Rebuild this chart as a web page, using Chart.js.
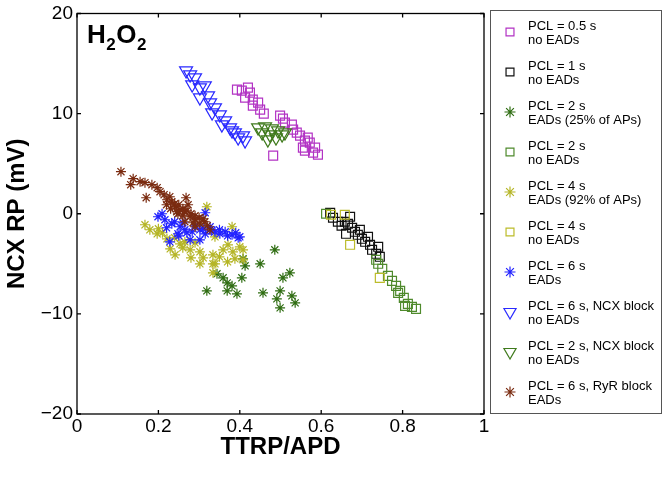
<!DOCTYPE html>
<html>
<head>
<meta charset="utf-8">
<script src="https://cdn.jsdelivr.net/npm/chart.js@4/dist/chart.umd.min.js"></script>
<style>
html, body { margin: 0; padding: 0; background: #fff; }
</style>
</head>
<body>
<canvas id="chart" width="664" height="478"></canvas>
<script>
// Values (x = TTRP/APD, y = NCX RP in mV)

var xTicks = [0, 0.2, 0.4, 0.6, 0.8, 1]
var yTicks = [-20, -10, 0, 10, 20]

var pcl05X = [0.393, 0.405, 0.42, 0.425, 0.413, 0.432, 0.445, 0.432, 0.45, 0.459, 0.499, 0.506, 0.511, 0.528, 0.531, 0.54, 0.548, 0.56, 0.567, 0.572, 0.555, 0.585, 0.56, 0.58, 0.592, 0.482]
var pcl05Y = [12.4, 12.3, 12.6, 12.1, 11.6, 11.4, 11.1, 10.8, 10.4, 10.0, 9.8, 9.5, 9.1, 8.9, 8.4, 8.1, 7.8, 7.3, 7.6, 7.1, 6.6, 6.6, 6.3, 6.1, 5.9, 5.8]

var pcl1X = [0.622, 0.629, 0.641, 0.65, 0.658, 0.666, 0.671, 0.676, 0.683, 0.661, 0.69, 0.695, 0.70, 0.708, 0.715, 0.72, 0.725, 0.735, 0.74, 0.744]
var pcl1Y = [0.1, -0.4, -0.8, -1.2, -0.8, -1.0, -0.3, -1.4, -1.8, -2.0, -2.1, -1.6, -2.5, -2.8, -2.3, -3.1, -3.6, -4.0, -3.3, -4.3]

var pcl2EadX = [0.408, 0.413, 0.405, 0.45, 0.486, 0.344, 0.359, 0.369, 0.381, 0.393, 0.369, 0.319, 0.457, 0.499, 0.491, 0.499, 0.523, 0.506, 0.528, 0.536]
var pcl2EadY = [-4.5, -5.2, -6.4, -5.0, -3.6, -6.0, -6.4, -6.9, -7.2, -8.0, -7.7, -7.7, -7.9, -7.7, -8.5, -9.4, -5.9, -6.4, -8.2, -8.9]

var pcl2X = [0.612, 0.735, 0.74, 0.75, 0.764, 0.774, 0.784, 0.789, 0.794, 0.803, 0.806, 0.813, 0.823, 0.833]
var pcl2Y = [0.0, -4.6, -5.0, -5.5, -6.2, -6.7, -7.2, -7.9, -7.7, -8.4, -9.2, -9.0, -9.3, -9.5]

var pcl4EadX = [0.167, 0.319, 0.381, 0.197, 0.221, 0.229, 0.241, 0.253, 0.278, 0.302, 0.302, 0.334, 0.334, 0.359, 0.383, 0.408, 0.408, 0.371, 0.339, 0.334, 0.388, 0.265, 0.179, 0.339, 0.2, 0.21, 0.24, 0.26, 0.29, 0.31, 0.35, 0.37, 0.4, 0.28]
var pcl4EadY = [-1.1, 0.7, -1.3, -2.0, -2.5, -3.5, -4.1, -3.0, -3.6, -3.8, -5.0, -4.1, -5.0, -3.6, -3.8, -3.6, -4.6, -3.1, -5.0, -5.9, -4.5, -2.8, -1.6, -2.3, -1.5, -1.9, -2.4, -3.4, -2.9, -4.4, -4.3, -4.8, -3.3, -4.4]

var pcl4X = [0.624, 0.658, 0.671, 0.744]
var pcl4Y = [-0.1, -0.1, -3.1, -6.4]

var pcl6EadX = [0.199, 0.216, 0.233, 0.253, 0.265, 0.283, 0.302, 0.315, 0.327, 0.339, 0.351, 0.364, 0.381, 0.396, 0.228, 0.302, 0.209, 0.315, 0.278, 0.248, 0.22, 0.24, 0.26, 0.27, 0.29, 0.31, 0.33, 0.35, 0.37, 0.39, 0.4, 0.25]
var pcl6EadY = [-0.3, -0.6, -1.0, -1.3, -1.6, -1.8, -1.6, -2.0, -1.3, -1.8, -2.0, -1.8, -2.1, -2.4, -2.8, -2.6, 0.0, 0.1, -2.6, -2.0, -1.4, -0.8, -0.9, -1.9, -1.2, -1.5, -1.7, -1.6, -2.2, -1.9, -2.3, -2.2]

var ncx6X = [0.268, 0.278, 0.29, 0.283, 0.302, 0.314, 0.302, 0.322, 0.327, 0.339, 0.332, 0.351, 0.364, 0.356, 0.376, 0.381, 0.388, 0.396, 0.408, 0.413]
var ncx6Y = [14.3, 13.9, 13.6, 12.9, 12.6, 12.8, 11.6, 11.8, 11.1, 10.6, 10.1, 9.9, 9.3, 8.9, 8.6, 8.3, 8.1, 7.6, 7.8, 7.3]

var ncx2X = [0.445, 0.462, 0.479, 0.494, 0.455, 0.474, 0.489, 0.504, 0.469, 0.511]
var ncx2Y = [8.6, 8.7, 8.5, 8.3, 8.1, 7.9, 7.6, 7.9, 7.4, 8.1]

var ryr6X = [0.108, 0.138, 0.132, 0.155, 0.167, 0.184, 0.197, 0.204, 0.17, 0.214, 0.221, 0.233, 0.268, 0.241, 0.253, 0.265, 0.248, 0.278, 0.29, 0.302, 0.327, 0.265, 0.29, 0.314, 0.228, 0.273, 0.24, 0.25, 0.26, 0.27, 0.28, 0.29, 0.3, 0.31, 0.32, 0.26, 0.23, 0.22, 0.285, 0.245]
var ryr6Y = [4.2, 3.5, 2.9, 3.2, 3.1, 2.9, 2.6, 2.2, 1.6, 1.9, 1.4, 1.2, 1.6, 0.7, 0.4, 0.2, 0.0, -0.3, -0.6, -1.0, -1.6, -0.8, -1.3, -0.8, 1.7, 0.9, 1.0, 0.9, 0.5, 0.3, 0.0, -0.2, -0.4, -0.5, -1.2, -0.2, 0.5, 0.9, -0.9, 0.2]

function pts(xs, ys) {
    return xs.map(function (x, i) { return { x: x, y: ys[i] } })
}

var FONT = "'Liberation Sans', Arial, Helvetica, sans-serif"

function series(label, xs, ys, style, color, radius, idx) {
    return {
        label: label,
        data: pts(xs, ys),
        pointStyle: style,
        pointRadius: radius,
        pointHoverRadius: radius,
        pointRotation: style === 'triangle' ? 180 : 0,
        borderColor: color,
        backgroundColor: 'rgba(0,0,0,0)',
        pointBorderWidth: 1.2,
        showLine: false,
        order: -idx
    }
}

var datasets = [
    series('PCL = 0.5 s\nno EADs', pcl05X, pcl05Y, 'rect', '#b233c4', 6.3, 0),
    series('PCL = 1 s\nno EADs', pcl1X, pcl1Y, 'rect', '#111111', 6.3, 1),
    series('PCL = 2 s\nEADs (25% of APs)', pcl2EadX, pcl2EadY, 'star', '#2f6d12', 5, 2),
    series('PCL = 2 s\nno EADs', pcl2X, pcl2Y, 'rect', '#4f8a2c', 6.3, 3),
    series('PCL = 4 s\nEADs (92% of APs)', pcl4EadX, pcl4EadY, 'star', '#b5b526', 5, 4),
    series('PCL = 4 s\nno EADs', pcl4X, pcl4Y, 'rect', '#bcbc2a', 6.3, 5),
    series('PCL = 6 s\nEADs', pcl6EadX, pcl6EadY, 'star', '#2222ff', 5, 6),
    series('PCL = 6 s, NCX block\nno EADs', ncx6X, ncx6Y, 'triangle', '#2a2aff', 7.5, 7),
    series('PCL = 2 s, NCX block\nno EADs', ncx2X, ncx2Y, 'triangle', '#3f7a1c', 7.5, 8),
    series('PCL = 6 s, RyR block\nEADs', ryr6X, ryr6Y, 'star', '#7a2b10', 5, 9)
]

// box, inward ticks, titles, annotation, legend
var decor = {
    id: 'decor',
    afterDraw: function (chart) {
        var ctx = chart.ctx
        var a = chart.chartArea
        var xs = chart.scales.x
        var ys = chart.scales.y
        ctx.save()
        ctx.strokeStyle = '#000'
        ctx.lineWidth = 1.3
        ctx.strokeRect(a.left, a.top, a.right - a.left, a.bottom - a.top)
        ctx.beginPath()
        xTicks.forEach(function (t) {
            var px = xs.getPixelForValue(t)
            ctx.moveTo(px, a.bottom); ctx.lineTo(px, a.bottom - 4)
            ctx.moveTo(px, a.top); ctx.lineTo(px, a.top + 4)
        })
        yTicks.forEach(function (t) {
            var py = ys.getPixelForValue(t)
            ctx.moveTo(a.left, py); ctx.lineTo(a.left + 4, py)
            ctx.moveTo(a.right, py); ctx.lineTo(a.right - 4, py)
        })
        ctx.stroke()

        // axis titles
        ctx.fillStyle = '#000'
        ctx.font = 'bold 24px ' + FONT
        ctx.textAlign = 'center'
        ctx.textBaseline = 'middle'
        ctx.fillText('TTRP/APD', (a.left + a.right) / 2, 447)
        ctx.save()
        ctx.translate(17, (a.top + a.bottom) / 2)
        ctx.rotate(-Math.PI / 2)
        ctx.fillText('NCX RP (mV)', 0, 0)
        ctx.restore()

        // H2O2 label
        ctx.textAlign = 'left'
        ctx.textBaseline = 'alphabetic'
        var hx = 87
        var parts = [['H', 26, 43], ['2', 17, 50], ['O', 26, 43], ['2', 17, 50]]
        parts.forEach(function (p) {
            ctx.font = 'bold ' + p[1] + 'px ' + FONT
            ctx.fillText(p[0], hx, p[2])
            hx += ctx.measureText(p[0]).width + 0.5
        })

        // legend
        ctx.lineWidth = 1
        ctx.strokeStyle = '#555'
        ctx.strokeRect(490.5, 10.5, 171, 403)
        ctx.font = '13px ' + FONT
        chart.data.datasets.forEach(function (ds, i) {
            var cy = 32 + 40 * i
            var lines = ds.label.split('\n')
            ctx.fillStyle = '#000'
            ctx.fillText(lines[0], 528, cy - 2)
            ctx.fillText(lines[1], 528, cy + 12)
            var r = ds.pointStyle === 'rect' ? 5.6 : (ds.pointStyle === 'triangle' ? 7 : 5.5)
            ctx.strokeStyle = ds.borderColor
            ctx.fillStyle = 'rgba(0,0,0,0)'
            ctx.lineWidth = 1.2
            Chart.helpers.drawPoint(ctx, {
                pointStyle: ds.pointStyle,
                radius: r,
                rotation: ds.pointRotation,
                borderWidth: 1.2
            }, 510, cy)
        })
        ctx.restore()
    }
}

function fmt(v) {
    return String(v).replace('-', '\u2212')
}

new Chart(document.getElementById('chart'), {
    type: 'scatter',
    data: { datasets: datasets },
    options: {
        responsive: false,
        animation: false,
        devicePixelRatio: 1,
        layout: { padding: { top: 10, right: 180, left: 0, bottom: 0 } },
        plugins: { legend: { display: false }, tooltip: { enabled: false } },
        scales: {
            x: {
                type: 'linear', min: 0, max: 1,
                afterBuildTicks: function (s) { s.ticks = xTicks.map(function (v) { return { value: v } }) },
                afterFit: function (s) { s.height = 64 },
                ticks: { color: '#000', padding: 3, font: { size: 19, family: FONT, lineHeight: 1 }, callback: fmt, maxRotation: 0 },
                grid: { display: false, drawTicks: false },
                border: { display: false }
            },
            y: {
                type: 'linear', min: -20, max: 20,
                afterBuildTicks: function (s) { s.ticks = yTicks.map(function (v) { return { value: v } }) },
                afterFit: function (s) { s.width = 77 },
                ticks: { color: '#000', padding: 4, font: { size: 19, family: FONT, lineHeight: 1 }, callback: fmt },
                grid: { display: false, drawTicks: false },
                border: { display: false }
            }
        }
    },
    plugins: [decor]
})
</script>
</body>
</html>
